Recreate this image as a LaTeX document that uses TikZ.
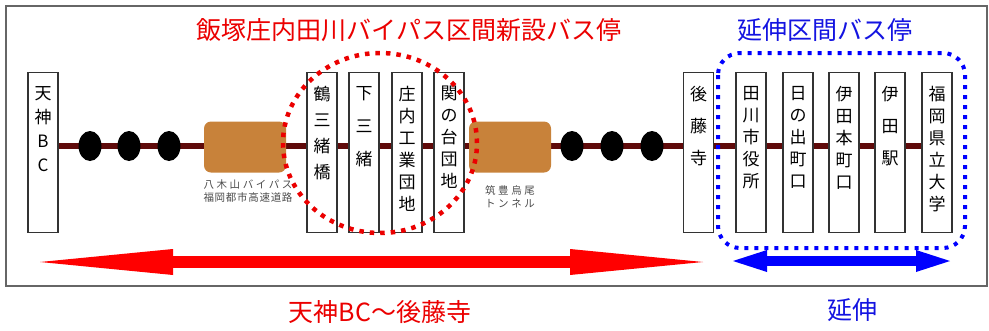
\documentclass[tikz,border=0pt]{standalone}
\usepackage{fontspec}
\setmainfont{Noto Sans CJK JP}
\usetikzlibrary{arrows.meta,backgrounds,positioning}

\definecolor{rosen}{RGB}{95,10,10}
\definecolor{tunnelcol}{RGB}{200,130,58}
\definecolor{akaji}{RGB}{235,0,0}
\definecolor{aoji}{RGB}{20,20,225}

\tikzset{
 stop/.style={draw=black!80, line width=1.1pt, fill=white, minimum width=30pt, minimum height=160pt, inner sep=0pt, anchor=north},
 stoptext/.style={font=\fontsize{17}{22}\selectfont, align=center, inner sep=0pt, anchor=north},
 tunnel/.style={fill=tunnelcol, rounded corners=7pt, minimum width=82pt, minimum height=51pt, inner sep=0pt},
 note/.style={font=\fontsize{10.5}{13.5}\selectfont, text=black!70, align=center, inner sep=0pt},
 midashi/.style={font=\fontsize{25}{30}\selectfont, inner sep=0pt}
}

\begin{document}
\begin{tikzpicture}[x=1pt,y=-1pt]
 \useasboundingbox (0,0) rectangle (989,330);
 % 見出し
 \node[midashi, text=akaji] (title-shinsetsu) at (409,30) {飯塚庄内田川バイパス区間新設バス停};
 \node[midashi, text=aoji] (title-enshin) at (825,30) {延伸区間バス停};
 % バス停
 \node[stop] (tenjin) at (43,72) {};
 \node[stop] (tsurumio) at (322,72) {};
 \node[stop] (shimomio) at (364,72) {};
 \node[stop] (shonai) at (407,72) {};
 \node[stop] (sekinodai) at (449,72) {};
 \node[stop] (gotoji) at (698.5,72) {};
 \node[stop] (shiyakusho) at (751,72) {};
 \node[stop] (hinode) at (798,72) {};
 \node[stop] (itahonmachi) at (844,72) {};
 \node[stop] (itaeki) at (890,72) {};
 \node[stop] (kenritsu) at (937,72) {};
 % バス停名
 \node[stoptext, font=\fontsize{17}{24}\selectfont] (tenjin-t) at ([yshift=-14pt]tenjin.north) {天\\神\\B\\C};
 \node[stoptext, font=\fontsize{17}{26}\selectfont] (tsurumio-t) at ([yshift=-14pt]tsurumio.north) {鶴\\三\\緒\\橋};
 \node[stoptext, font=\fontsize{17}{33}\selectfont] (shimomio-t) at ([yshift=-14pt]shimomio.north) {下\\三\\緒};
 \node[stoptext] (shonai-t) at ([yshift=-14pt]shonai.north) {庄\\内\\工\\業\\団\\地};
 \node[stoptext] (sekinodai-t) at ([yshift=-14pt]sekinodai.north) {関\\の\\台\\団\\地};
 \node[stoptext, font=\fontsize{17}{32}\selectfont] (gotoji-t) at ([yshift=-14pt]gotoji.north) {後\\藤\\寺};
 \node[stoptext] (shiyakusho-t) at ([yshift=-14pt]shiyakusho.north) {田\\川\\市\\役\\所};
 \node[stoptext] (hinode-t) at ([yshift=-14pt]hinode.north) {日\\の\\出\\町\\口};
 \node[stoptext] (itahonmachi-t) at ([yshift=-14pt]itahonmachi.north) {伊\\田\\本\\町\\口};
 \node[stoptext, font=\fontsize{17}{32}\selectfont] (itaeki-t) at ([yshift=-14pt]itaeki.north) {伊\\田\\駅};
 \node[stoptext] (kenritsu-t) at ([yshift=-14pt]kenritsu.north) {福\\岡\\県\\立\\大\\学};
 % トンネル
 \node[tunnel] (yagiyama) at (245,147) {};
 \node[tunnel] (chikuho) at (510,147) {};
 \node[note] (yagiyama-t) at (248,191) {\makebox[89pt][s]{八\hfill 木\hfill 山\hfill バ\hfill イ\hfill パ\hfill ス}\\\makebox[89pt][s]{福\hfill 岡\hfill 都\hfill 市\hfill 高\hfill 速\hfill 道\hfill 路}};
 \node[note] (chikuho-t) at (510,197) {\makebox[50pt][s]{筑\hfill 豊\hfill 烏\hfill 尾}\\\makebox[50pt][s]{ト\hfill ン\hfill ネ\hfill ル}};
 % 途中のバス停（省略）
 \coordinate (P1) at (90,146);
 \coordinate (P2) at (129,146);
 \coordinate (P3) at (169,146);
 \coordinate (P4) at (572,146);
 \coordinate (P5) at (612,146);
 \coordinate (P6) at (652,146);
 \fill (P1) ellipse [x radius=11.5pt, y radius=15pt];
 \fill (P2) ellipse [x radius=11.5pt, y radius=15pt];
 \fill (P3) ellipse [x radius=11.5pt, y radius=15pt];
 \fill (P4) ellipse [x radius=11.5pt, y radius=15pt];
 \fill (P5) ellipse [x radius=11.5pt, y radius=15pt];
 \fill (P6) ellipse [x radius=11.5pt, y radius=15pt];
 % 外枠と路線
 \begin{scope}[on background layer]
  \draw[line width=2pt, black!60] (6,6) rectangle (987,286);
  \draw[line width=6pt, rosen] ([yshift=7pt]tenjin.east) -- ([yshift=7pt]kenritsu.west);
 \end{scope}
 % 区間の囲み
 \draw[akaji, line width=4.5pt, dash pattern=on 4.5pt off 6pt] (380,143) ellipse [x radius=97pt, y radius=90pt];
 \draw[blue, line width=4pt, dash pattern=on 4pt off 6pt, rounded corners=22pt] (718,53) rectangle (965,248);
 % 矢印
 \coordinate (RA1) at (40,262);
 \coordinate (RA2) at (703,262);
 \coordinate (BA1) at (733,261);
 \coordinate (BA2) at (950,261);
 \draw[red, line width=12pt, {Triangle[length=133pt, width=26pt, line width=0pt]}-{Triangle[length=133pt, width=26pt, line width=0pt]}] (RA1) -- (RA2);
 \draw[blue, line width=10pt, {Triangle[length=34pt, width=22pt, line width=0pt]}-{Triangle[length=34pt, width=22pt, line width=0pt]}] (BA1) -- (BA2);
 \node[midashi, text=akaji] (label-kukan) at (380,312) {天神BC～後藤寺};
 \node[midashi, text=aoji] (label-enshin) at (852,310) {延伸};
\end{tikzpicture}
\end{document}
